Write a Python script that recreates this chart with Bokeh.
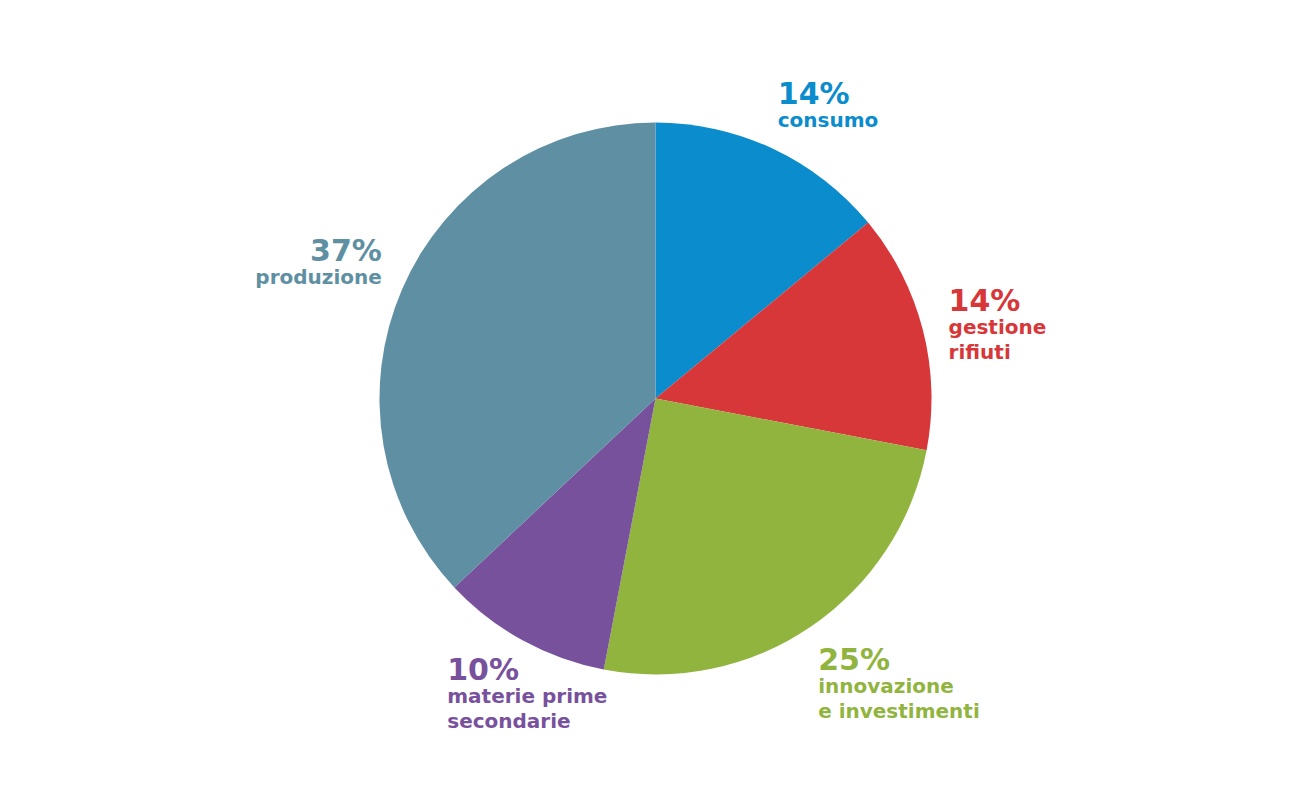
import math
from bokeh.plotting import figure
from bokeh.models import Range1d, ColumnDataSource
from bokeh.core.properties import value
from bokeh.embed import file_html
from bokeh.resources import INLINE

# ---- data ----
categories = ["consumo", "gestione rifiuti", "innovazione e investimenti",
              "materie prime secondarie", "produzione"]
shares = [14, 14, 25, 10, 37]
pct_labels = ["14%", "14%", "25%", "10%", "37%"]
name_lines = [["consumo"], ["gestione", "rifiuti"], ["innovazione", "e investimenti"],
              ["materie prime", "secondarie"], ["produzione"]]
colors = ["#0a8ccd", "#d83739", "#91b43f", "#78519d", "#5f8fa3"]

# ---- layout ----
W, H = 1300, 800
CX, CY, R = 655, 398, 276          # pixel centre (y down) and radius
label_r = 1.1 * R
label_shift = [(-7, -18), (-1, -10), (-8, 22), (-62, 17), (5, -15)]
label_align = ["left", "left", "left", "left", "right"]
BASE_FIX = -12   # baseline correction of the renderer
FONT = "DejaVu Sans"

p = figure(width=W, height=H, x_range=Range1d(0, W), y_range=Range1d(0, H),
           output_backend="svg", toolbar_location=None, min_border=0)
p.axis.visible = False
p.grid.visible = False
p.outline_line_color = None
p.background_fill_color = "white"

total = float(sum(shares))
cum = 0.0
starts, ends, mids = [], [], []
for s in shares:
    a0 = cum / total
    cum += s
    a1 = cum / total
    starts.append(math.pi / 2 - a0 * 2 * math.pi)
    ends.append(math.pi / 2 - a1 * 2 * math.pi)
    mids.append((a0 + a1) / 2 * 2 * math.pi)

src = ColumnDataSource(dict(x=[CX] * len(shares), y=[H - CY] * len(shares),
                            start=starts, end=ends, color=colors, cat=categories))
p.wedge(x="x", y="y", radius=R, start_angle="start", end_angle="end",
        direction="clock", fill_color="color", line_color=None, source=src)

for i in range(len(shares)):
    ax = CX + label_r * math.sin(mids[i]) + label_shift[i][0]
    ay = CY - label_r * math.cos(mids[i]) + label_shift[i][1] + BASE_FIX
    p.text(x=[ax], y=[H - ay], text=[pct_labels[i]], text_color=colors[i],
           text_font=value(FONT), text_font_style="bold", text_font_size="30px",
           text_align=label_align[i], text_baseline="alphabetic")
    for j, line in enumerate(name_lines[i]):
        ly = ay + 26 + 25 * j
        p.text(x=[ax], y=[H - ly], text=[line], text_color=colors[i],
               text_font=value(FONT), text_font_style="bold", text_font_size="20px",
               text_align=label_align[i], text_baseline="alphabetic")

open("out.html", "w").write(file_html(p, INLINE))
